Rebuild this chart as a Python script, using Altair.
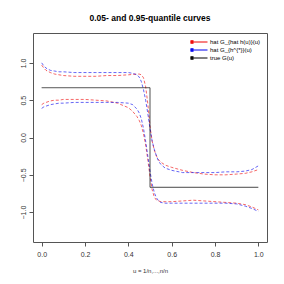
import altair as alt
import pandas as pd

u = [0, 0.01, 0.02, 0.04, 0.06, 0.08, 0.1, 0.15, 0.2, 0.25, 0.3, 0.35, 0.4, 0.42, 0.44,
     0.45, 0.46, 0.47, 0.48, 0.49, 0.5, 0.51, 0.52, 0.53, 0.54, 0.55, 0.57, 0.6, 0.65,
     0.7, 0.75, 0.8, 0.85, 0.9, 0.94, 0.97, 1.0]

red_upper = [0.97, 0.93, 0.90, 0.87, 0.85, 0.84, 0.83, 0.82, 0.82, 0.82, 0.83, 0.83, 0.84,
             0.845, 0.85, 0.85, 0.84, 0.80, 0.68, 0.45, 0.15, -0.05, -0.17, -0.25, -0.30,
             -0.33, -0.37, -0.40, -0.44, -0.47, -0.49, -0.50, -0.50, -0.49, -0.48, -0.46, -0.43]
blue_upper = [1.0, 0.96, 0.93, 0.90, 0.89, 0.88, 0.88, 0.87, 0.87, 0.87, 0.87, 0.87, 0.87,
              0.86, 0.84, 0.81, 0.75, 0.64, 0.50, 0.32, 0.12, -0.05, -0.16, -0.25, -0.32,
              -0.36, -0.41, -0.44, -0.47, -0.47, -0.47, -0.47, -0.46, -0.46, -0.45, -0.43, -0.38]
red_lower = [0.44, 0.46, 0.47, 0.49, 0.50, 0.50, 0.51, 0.51, 0.51, 0.50, 0.49, 0.46, 0.40,
             0.35, 0.28, 0.23, 0.16, 0.05, -0.10, -0.30, -0.52, -0.70, -0.80, -0.84, -0.85,
             -0.86, -0.86, -0.86, -0.85, -0.84, -0.85, -0.86, -0.87, -0.88, -0.90, -0.93, -0.97]
blue_lower = [0.39, 0.41, 0.42, 0.44, 0.45, 0.46, 0.46, 0.47, 0.47, 0.47, 0.47, 0.47, 0.46,
              0.44, 0.38, 0.33, 0.25, 0.12, -0.05, -0.25, -0.45, -0.62, -0.74, -0.81, -0.85,
              -0.87, -0.88, -0.88, -0.88, -0.88, -0.88, -0.88, -0.88, -0.89, -0.92, -0.95, -0.99]

true_u = [0, 0.5, 0.5, 1.0]
true_g = [0.667, 0.667, -0.667, -0.667]

series_names = ["hat G_{hat h(u)}(u)", "hat G_{h^{*}}(u)", "true G(u)"]
series_colors = ["#ee0000", "#0000ee", "#000000"]
line_kinds = ["quantile", "truth"]

rows = []
for name, ser, ys in [("ru", series_names[0], red_upper), ("rl", series_names[0], red_lower),
                      ("bu", series_names[1], blue_upper), ("bl", series_names[1], blue_lower)]:
    for i, (a, b) in enumerate(zip(u, ys)):
        rows.append({"u": a, "g": b, "curve": name, "series": ser, "kind": line_kinds[0],
                     "ord": i})
for i, (a, b) in enumerate(zip(true_u, true_g)):
    rows.append({"u": a, "g": b, "curve": "true", "series": series_names[2],
                 "kind": line_kinds[1], "ord": i})
df = pd.DataFrame(rows)

font = "Liberation Sans"

# legend glyph: a filled square (drawn as tightly packed strokes) followed by a line
glyph = ("M-3.4,-0.5H-2.2 M-3.4,-0.25H-2.2 M-3.4,0H-2.2 M-3.4,0.25H-2.2 "
         "M-3.4,0.5H-2.2 M-2.2,0H3.4")

chart = alt.Chart(df).mark_line(strokeWidth=1.0).encode(
    x=alt.X("u:Q", scale=alt.Scale(domain=[-0.04, 1.04], nice=False, zero=False),
            axis=alt.Axis(values=[0, 0.2, 0.4, 0.6, 0.8, 1.0], format=".1f",
                          title="u = 1/n,...,n/n", titleFontSize=6, titleFontWeight="normal",
                          titlePadding=10, labelPadding=4)),
    y=alt.Y("g:Q", scale=alt.Scale(domain=[-1.4, 1.4], nice=False, zero=False),
            axis=alt.Axis(values=[-1.0, -0.5, 0.0, 0.5, 1.0], format=".1f", title=None,
                          labelAngle=270, labelAlign="center", labelBaseline="bottom",
                          labelPadding=3)),
    color=alt.Color("series:N", scale=alt.Scale(domain=series_names, range=series_colors),
                    sort=series_names,
                    legend=alt.Legend(title=None, orient="top-right", offset=4,
                                      labelFontSize=6, labelFont=font, labelColor="#000",
                                      symbolType=glyph,
                                      symbolSize=25, symbolStrokeWidth=1.0,
                                      symbolOpacity=1,
                                      symbolOffset=6, labelOffset=8, rowPadding=0,
                                      padding=2)),
    strokeDash=alt.StrokeDash("kind:N", scale=alt.Scale(domain=line_kinds,
                              range=[[3, 2], [1, 0]]), legend=None),
    opacity=alt.Opacity("kind:N", scale=alt.Scale(domain=line_kinds,
                        range=[0.6, 0.75]), legend=None),
    detail="curve:N",
    order="ord:Q",
).properties(
    width=234, height=209,
    title=alt.TitleParams("0.05- and 0.95-quantile curves", fontSize=8.5, fontWeight="bold",
                          font=font, offset=11, anchor="middle"),
    autosize=alt.AutoSizeParams(type="none"),
    padding={"left": 25, "top": 25, "right": 9, "bottom": 34},
).configure_axis(
    domain=False, grid=False, tickSize=4, tickColor="#555", labelFontSize=7,
    labelFont=font, labelColor="#333", titleFont=font, titleColor="#333",
).configure_view(
    stroke="#555", strokeWidth=1
)

chart.save("out.html", embed_options={"renderer": "svg", "actions": False})
